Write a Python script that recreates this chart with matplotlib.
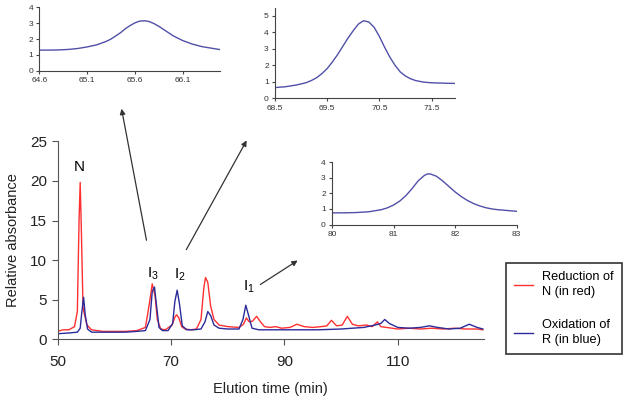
import matplotlib
matplotlib.use("Agg")
import matplotlib.pyplot as plt

plt.rcParams['font.family'] = ['Liberation Sans', 'DejaVu Sans']
plt.rcParams['mathtext.fontset'] = 'custom'
plt.rcParams['mathtext.rm'] = 'Liberation Sans'

# main chromatogram, red = reduction of N
red_t = [50, 51, 52, 53, 53.5, 53.8, 54.0, 54.2, 54.5, 54.8, 55.2, 56, 58, 60, 62, 64,
         65.5, 66.2, 66.7, 67.2, 67.6, 68.2, 69, 70.2, 70.7, 71.0, 71.4, 71.9, 72.5, 73.5,
         74.5, 75.3, 75.8, 76.1, 76.5, 77.0, 77.6, 78.5, 80, 82, 82.8, 83.3, 83.8, 84.4,
         85.1, 85.8, 86.5, 87.5, 88.5, 89.5, 91, 92.2, 93.5, 95, 96.5, 97.5, 98.3, 99.2,
         100.2, 101.1, 102, 103, 104.5, 105.5, 106.4, 107, 108, 110, 112, 114, 116, 118,
         120, 122, 124, 125]
red_y = [1.0, 1.2, 1.2, 1.6, 3.5, 15.0, 19.8, 14.0, 4.0, 3.0, 1.8, 1.2, 1.0, 1.0, 1.0, 1.1,
         1.5, 4.5, 7.0, 5.5, 2.5, 1.3, 1.2, 1.8, 2.8, 3.1, 2.7, 1.6, 1.3, 1.2,
         1.3, 2.5, 6.5, 7.8, 7.2, 4.2, 2.5, 1.8, 1.6, 1.5, 1.9, 2.7, 2.2, 2.3,
         2.9, 2.2, 1.6, 1.5, 1.6, 1.4, 1.5, 1.9, 1.6, 1.5, 1.6, 1.7, 2.4, 1.7,
         1.8, 2.9, 1.9, 1.7, 1.8, 1.6, 2.2, 1.6, 1.5, 1.3, 1.4, 1.3, 1.4, 1.3,
         1.4, 1.3, 1.3, 1.2]

# blue = oxidation of R
blue_t = [50, 52, 53.5, 54.0, 54.3, 54.6, 54.9, 55.3, 56, 58, 60, 62, 64, 65.5, 66.3, 66.7,
          67.1, 67.5, 67.9, 68.5, 69.5, 70.3, 70.7, 71.1, 71.5, 72.0, 72.8, 74, 75.3, 76.0,
          76.5, 77.0, 77.6, 78.5, 80, 82, 82.7, 83.2, 83.7, 84.3, 85.5, 88, 92, 96, 100,
          104, 106, 107, 107.7, 108.5, 110, 112, 114, 115.6, 117, 119, 121, 122.6, 124, 125]
blue_y = [0.7, 0.8, 0.9, 1.4, 3.5, 5.3, 3.0, 1.3, 0.9, 0.9, 0.9, 0.9, 1.0, 1.1, 2.5, 6.0,
          6.6, 4.0, 1.5, 1.1, 1.1, 2.0, 4.8, 6.2, 4.5, 1.7, 1.2, 1.2, 1.3, 2.2,
          3.5, 3.0, 1.8, 1.4, 1.3, 1.3, 2.5, 4.3, 3.0, 1.4, 1.2, 1.2, 1.2, 1.2, 1.3,
          1.5, 1.8, 2.0, 2.5, 2.0, 1.5, 1.4, 1.5, 1.7, 1.5, 1.3, 1.4, 1.9, 1.5, 1.3]

main_xticks = [50, 70, 90, 110]
main_yticks = [0, 5, 10, 15, 20, 25]

# zoomed peaks (insets)
ins1_t = [64.6, 64.7, 64.8, 64.9, 65.0, 65.1, 65.2, 65.3, 65.35, 65.4, 65.45, 65.5, 65.55,
          65.6, 65.65, 65.7, 65.75, 65.8, 65.85, 65.9, 65.95, 66.0, 66.05, 66.1, 66.2,
          66.3, 66.4, 66.49]
ins1_y = [1.3, 1.3, 1.31, 1.34, 1.4, 1.5, 1.63, 1.85, 2.0, 2.2, 2.4, 2.65, 2.85,
          3.02, 3.13, 3.15, 3.1, 2.97, 2.8, 2.6, 2.4, 2.2, 2.05, 1.9, 1.68,
          1.52, 1.42, 1.33]
ins1_xticks = [64.6, 65.1, 65.6, 66.1]

ins2_t = [68.5, 68.7, 68.9, 69.0, 69.1, 69.2, 69.3, 69.4, 69.5, 69.6, 69.7, 69.8, 69.9,
          70.0, 70.1, 70.2, 70.3, 70.4, 70.5, 70.6, 70.7, 70.8, 70.9, 71.0, 71.1, 71.2,
          71.35, 71.5, 71.7, 71.95]
ins2_y = [0.65, 0.7, 0.8, 0.87, 0.95, 1.08, 1.25, 1.5, 1.8, 2.2, 2.65, 3.15, 3.65,
          4.1, 4.5, 4.7, 4.62, 4.3, 3.75, 3.1, 2.5, 2.0, 1.6, 1.35, 1.18, 1.07,
          0.98, 0.94, 0.92, 0.9]
ins2_xticks = [68.5, 69.5, 70.5, 71.5]

ins3_t = [80, 80.2, 80.4, 80.6, 80.8, 80.9, 81.0, 81.1, 81.2, 81.3, 81.4, 81.5, 81.55,
          81.6, 81.7, 81.8, 81.9, 82.0, 82.1, 82.2, 82.3, 82.4, 82.5, 82.6, 82.7, 82.85, 83.0]
ins3_y = [0.75, 0.75, 0.77, 0.82, 0.95, 1.07, 1.25, 1.5, 1.85, 2.3, 2.8, 3.15, 3.25,
          3.25, 3.1, 2.8, 2.45, 2.1, 1.8, 1.55, 1.35, 1.2, 1.08, 1.0, 0.95, 0.9, 0.85]
ins3_xticks = [80, 81, 82, 83]

W, H = 629, 400
fig = plt.figure(figsize=(W / 100, H / 100), dpi=100)


def px_rect(x0, x1, ytop, ybot):
    return [x0 / W, 1 - ybot / H, (x1 - x0) / W, (ybot - ytop) / H]


ax = fig.add_axes(px_rect(57.5, 484, 141.3, 339.3))
ax.plot(red_t, red_y, color='#ff3030', lw=1.0, label='Reduction of\nN (in red)')
ax.plot(blue_t, blue_y, color='#2b2b9a', lw=1.0, label='Oxidation of\nR (in blue)')
ax.set_xlim(50, 125.2)
ax.set_ylim(0, 25)
ax.set_xticks(main_xticks)
ax.set_yticks(main_yticks)
for s in ['top', 'right']:
    ax.spines[s].set_visible(False)
for s in ['left', 'bottom']:
    ax.spines[s].set_color('#555555')
ax.tick_params(labelsize=11, colors='#555555', labelcolor='#222222', length=4)
ax.tick_params(axis='x', pad=7)
ax.set_ylabel('Relative absorbance', fontsize=10.5, color='#222222', labelpad=7)
ax.set_xlabel('Elution time (min)', fontsize=10.5, color='#222222', labelpad=10)

ax.text(53.85, 21.8, 'N', fontsize=11, ha='center', va='center')
ax.text(66.8, 8.3, r'$\mathregular{I_3}$', fontsize=11, ha='center', va='center')
ax.text(71.6, 8.1, r'$\mathregular{I_2}$', fontsize=11, ha='center', va='center')
ax.text(83.8, 6.6, r'$\mathregular{I_1}$', fontsize=11, ha='center', va='center')

leg = fig.legend(loc='upper left', bbox_to_anchor=(506 / W, 1 - 263 / H), fontsize=9.2,
                 frameon=True, fancybox=False, edgecolor='black', handlelength=1.5,
                 labelspacing=1.6, borderpad=0.65, borderaxespad=0, handletextpad=0.7)
leg.get_frame().set_linewidth(1.2)
for txt in leg.get_texts():
    txt.set_linespacing(1.35)


def inset(rect, t, y, xlim, ylim, xticks, yticks):
    a = fig.add_axes(rect)
    a.plot(t, y, color='#5050a8', lw=1.0)
    a.set_xlim(*xlim)
    a.set_ylim(*ylim)
    a.set_xticks(xticks)
    a.set_xticklabels([str(v) for v in xticks])
    a.set_yticks(yticks)
    for s in ['top', 'right']:
        a.spines[s].set_visible(False)
    for s in ['left', 'bottom']:
        a.spines[s].set_color('#444444')
        a.spines[s].set_linewidth(0.8)
    a.tick_params(labelsize=6, colors='#444444', labelcolor='#333333', length=2.5, pad=2)
    return a


inset(px_rect(39.4, 220, 7.3, 70.7), ins1_t, ins1_y, (64.6, 66.49), (0, 4),
      ins1_xticks, [0, 1, 2, 3, 4])
inset(px_rect(275, 455, 7.5, 98.3), ins2_t, ins2_y, (68.5, 71.95), (0, 5.5),
      ins2_xticks, [0, 1, 2, 3, 4, 5])
inset(px_rect(332, 516.5, 162.3, 224.5), ins3_t, ins3_y, (80, 83), (0, 4),
      ins3_xticks, [0, 1, 2, 3, 4])

# arrows from peak labels to the insets (pixel positions)
arrows = [((147, 243), (121, 106)), ((185, 252), (248, 138)), ((258, 286), (300, 259))]
for (x0, y0), (x1, y1) in arrows:
    fig.add_artist(matplotlib.patches.FancyArrowPatch(
        (x0 / W, 1 - y0 / H), (x1 / W, 1 - y1 / H), transform=fig.transFigure,
        arrowstyle='-|>', mutation_scale=8, color='#333333', lw=0.9))

fig.savefig('out.png', dpi=100)
